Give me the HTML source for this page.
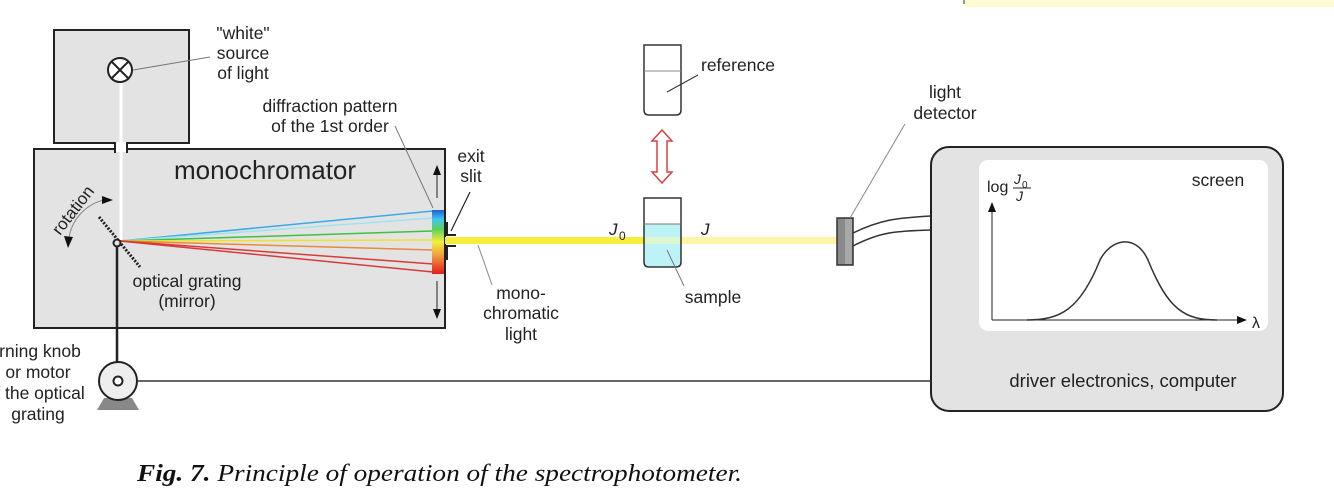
<!DOCTYPE html>
<html><head><meta charset="utf-8"><style>
body{margin:0;background:#fff;}
svg{display:block;font-family:"Liberation Sans",Arial,sans-serif;}
</style></head><body>
<svg width="1334" height="503" viewBox="0 0 1334 503" xmlns="http://www.w3.org/2000/svg">
<defs>
<linearGradient id="spec" x1="0" y1="0" x2="0" y2="1">
<stop offset="0" stop-color="#1f5fd0"/><stop offset="0.15" stop-color="#40c8f0"/><stop offset="0.3" stop-color="#5bd05b"/><stop offset="0.5" stop-color="#f3ef3a"/><stop offset="0.7" stop-color="#f2a040"/><stop offset="1" stop-color="#e41c1c"/>
</linearGradient>
<marker id="ah" markerWidth="10" markerHeight="8" refX="9" refY="4" orient="auto" markerUnits="userSpaceOnUse"><path d="M0,0 L10,4 L0,8 z" fill="#111"/></marker>
</defs>
<rect x="965" y="0" width="369" height="7" fill="#fffbd3"/>
<rect x="963" y="0" width="2" height="4" fill="#999"/>

<!-- lamp box -->
<rect x="54" y="30" width="135" height="113" fill="#e3e3e3" stroke="#222" stroke-width="2"/>
<line x1="121" y1="82" x2="121" y2="243" stroke="#fff" stroke-width="3"/>
<circle cx="120" cy="70" r="12" fill="#fff" stroke="#222" stroke-width="2"/>
<path d="M112,62 L128,78 M128,62 L112,78" stroke="#222" stroke-width="2"/>
<line x1="133" y1="70" x2="210" y2="57" stroke="#777" stroke-width="1"/>
<g font-size="17.5" fill="#222" text-anchor="middle">
<text x="243" y="39">"white"</text><text x="243" y="59">source</text><text x="243" y="79">of light</text>
</g>

<!-- monochromator -->
<rect x="34" y="149" width="411" height="179" fill="#e3e3e3" stroke="#222" stroke-width="2"/>
<rect x="114" y="142" width="14" height="10" fill="#fff"/>
<line x1="115" y1="142" x2="115" y2="153" stroke="#222" stroke-width="2"/>
<line x1="127" y1="142" x2="127" y2="153" stroke="#222" stroke-width="2"/>
<line x1="121" y1="140" x2="121" y2="243" stroke="#fff" stroke-width="3"/>
<text x="265" y="179" font-size="26" fill="#222" text-anchor="middle">monochromator</text>

<!-- rays -->
<g stroke-width="1.5">
<line x1="120" y1="241" x2="433" y2="211" stroke="#3aaae8"/>
<line x1="120" y1="241" x2="433" y2="218" stroke="#9ee4f0"/>
<line x1="120" y1="241" x2="433" y2="231" stroke="#40c040"/>
<line x1="120" y1="241" x2="433" y2="240" stroke="#f0e030"/>
<line x1="120" y1="241" x2="433" y2="250" stroke="#e88a40"/>
<line x1="120" y1="241" x2="433" y2="264" stroke="#d83a3a"/>
<line x1="120" y1="241" x2="433" y2="272" stroke="#d83a3a"/>
</g>
<rect x="432" y="210" width="12" height="64" fill="url(#spec)"/>
<line x1="437" y1="198" x2="437" y2="166" stroke="#222" stroke-width="1" marker-end="url(#ah)"/>
<line x1="437" y1="281" x2="437" y2="318" stroke="#222" stroke-width="1" marker-end="url(#ah)"/>
<line x1="395" y1="126" x2="433" y2="208" stroke="#777" stroke-width="1"/>
<g font-size="17.5" fill="#222" text-anchor="middle">
<text x="330" y="112">diffraction pattern</text><text x="330" y="132">of the 1st order</text>
</g>

<!-- grating -->
<line x1="99" y1="217" x2="140" y2="267" stroke="#222" stroke-width="3" stroke-dasharray="2,1.5"/>
<circle cx="117" cy="243" r="3.5" fill="#e3e3e3" stroke="#222" stroke-width="2"/>
<line x1="117" y1="246" x2="117" y2="362" stroke="#222" stroke-width="2.5"/>
<path d="M104,200 A46,46 0 0 0 69,238" fill="none" stroke="#888" stroke-width="1"/>
<path d="M102,196 L113,200 L102,204 z" fill="#111"/>
<path d="M64,236 L68,248 L73,237 z" fill="#111"/>
<text x="0" y="0" font-size="17" fill="#222" transform="translate(60,236) rotate(-52)">rotation</text>
<g font-size="17.5" fill="#222" text-anchor="middle">
<text x="187" y="287">optical grating</text><text x="187" y="307">(mirror)</text>
</g>

<!-- exit slit & beam -->
<rect x="445" y="237" width="200" height="7" fill="#f5ef3c"/>
<rect x="645" y="237" width="192" height="7" fill="#fff5a8"/>
<path d="M447,222 L447,235 L456,235 M456,246 L447,246 L447,260" fill="none" stroke="#222" stroke-width="2"/>
<line x1="470" y1="192" x2="451" y2="231" stroke="#222" stroke-width="1.2"/>
<g font-size="17.5" fill="#222" text-anchor="middle">
<text x="471" y="162">exit</text><text x="471" y="182">slit</text>
</g>
<line x1="478" y1="245" x2="492" y2="285" stroke="#888" stroke-width="1"/>
<g font-size="17.5" fill="#222" text-anchor="middle">
<text x="521" y="299">mono-</text><text x="521" y="319">chromatic</text><text x="521" y="340">light</text>
</g>

<!-- cuvettes -->
<path d="M644,45 L681,45 L681,110 Q681,115 676,115 L649,115 Q644,115 644,110 Z" fill="#fff" stroke="#333" stroke-width="1.5"/>
<line x1="644" y1="71" x2="681" y2="71" stroke="#888" stroke-width="1"/>
<line x1="667" y1="92" x2="698" y2="75" stroke="#333" stroke-width="1"/>
<text x="701" y="71" font-size="17.5" fill="#222">reference</text>
<path d="M662,130 L672,141 L667,141 L667,172 L672,172 L662,183 L652,172 L657,172 L657,141 L652,141 Z" fill="#fff" stroke="#d84040" stroke-width="1.5"/>
<path d="M644,224 L681,224 L681,262 Q681,267 676,267 L649,267 Q644,267 644,262 Z" fill="#bdf2f6"/>
<rect x="644" y="237" width="37" height="7" fill="#e2f6c8" opacity="0.8"/>
<path d="M644,198 L681,198 L681,262 Q681,267 676,267 L649,267 Q644,267 644,262 Z" fill="none" stroke="#333" stroke-width="1.5"/>
<line x1="644" y1="224" x2="681" y2="224" stroke="#777" stroke-width="1"/>
<line x1="667" y1="250" x2="684" y2="286" stroke="#777" stroke-width="1"/>
<text x="713" y="303" font-size="17.5" fill="#222" text-anchor="middle">sample</text>
<text x="609" y="235" font-size="17" font-style="italic" fill="#222">J</text>
<text x="619" y="240" font-size="12" fill="#222">0</text>
<text x="701" y="235" font-size="17" font-style="italic" fill="#222">J</text>

<!-- detector -->
<path d="M853,233 C880,220 895,218 931,216 M853,246 C880,232 895,231 931,230" fill="none" stroke="#333" stroke-width="1.5"/>
<rect x="837" y="218" width="16" height="47" fill="#8a8a8a" stroke="#333" stroke-width="1.5"/>
<rect x="845" y="219" width="7" height="45" fill="#a8a8a8"/>
<line x1="850" y1="218" x2="905" y2="124" stroke="#888" stroke-width="1"/>
<g font-size="17.5" fill="#222" text-anchor="middle">
<text x="945" y="98">light</text><text x="945" y="119">detector</text>
</g>

<!-- computer -->
<rect x="931" y="147" width="352" height="264" rx="18" fill="#e3e3e3" stroke="#222" stroke-width="2"/>
<rect x="979" y="160" width="289" height="171" rx="9" fill="#fff"/>
<line x1="992" y1="320" x2="992" y2="203" stroke="#222" stroke-width="1" marker-end="url(#ah)"/>
<line x1="992" y1="320" x2="1246" y2="320" stroke="#222" stroke-width="1" marker-end="url(#ah)"/>
<path d="M1027,320 C1060,320 1080,310 1100,260 C1110,240 1135,232 1148,260 C1168,310 1185,320 1217,320" fill="none" stroke="#333" stroke-width="1.5"/>
<text x="1252" y="328" font-size="16" fill="#222">λ</text>
<text x="987" y="192" font-size="16" fill="#222">log</text>
<text x="1014" y="184" font-size="14" font-style="italic" fill="#222">J</text>
<text x="1022" y="188" font-size="10" fill="#222">0</text>
<line x1="1013" y1="188" x2="1031" y2="188" stroke="#222" stroke-width="1"/>
<text x="1016" y="201" font-size="14" font-style="italic" fill="#222">J</text>
<text x="1218" y="186" font-size="17.5" fill="#222" text-anchor="middle">screen</text>
<text x="1123" y="387" font-size="18.5" fill="#222" text-anchor="middle">driver electronics, computer</text>

<!-- motor -->
<line x1="137" y1="381" x2="931" y2="381" stroke="#333" stroke-width="1.5"/>
<path d="M104,398 L132,398 L139,410 L97,410 Z" fill="#888"/>
<circle cx="118" cy="381" r="19" fill="#eee" stroke="#222" stroke-width="2"/>
<circle cx="118" cy="381" r="4.5" fill="#fff" stroke="#222" stroke-width="2"/>
<g font-size="17.5" fill="#222" text-anchor="middle">
<text x="40" y="357">rning knob</text><text x="38" y="378">or motor</text><text x="40" y="399">f the optical</text><text x="38" y="420">grating</text>
</g>

<text x="137" y="481" font-family="'Liberation Serif',serif" font-size="24" font-style="italic" fill="#111" textLength="605" lengthAdjust="spacingAndGlyphs"><tspan font-weight="bold">Fig. 7.</tspan> Principle of operation of the spectrophotometer.</text>
</svg>
</body></html>
